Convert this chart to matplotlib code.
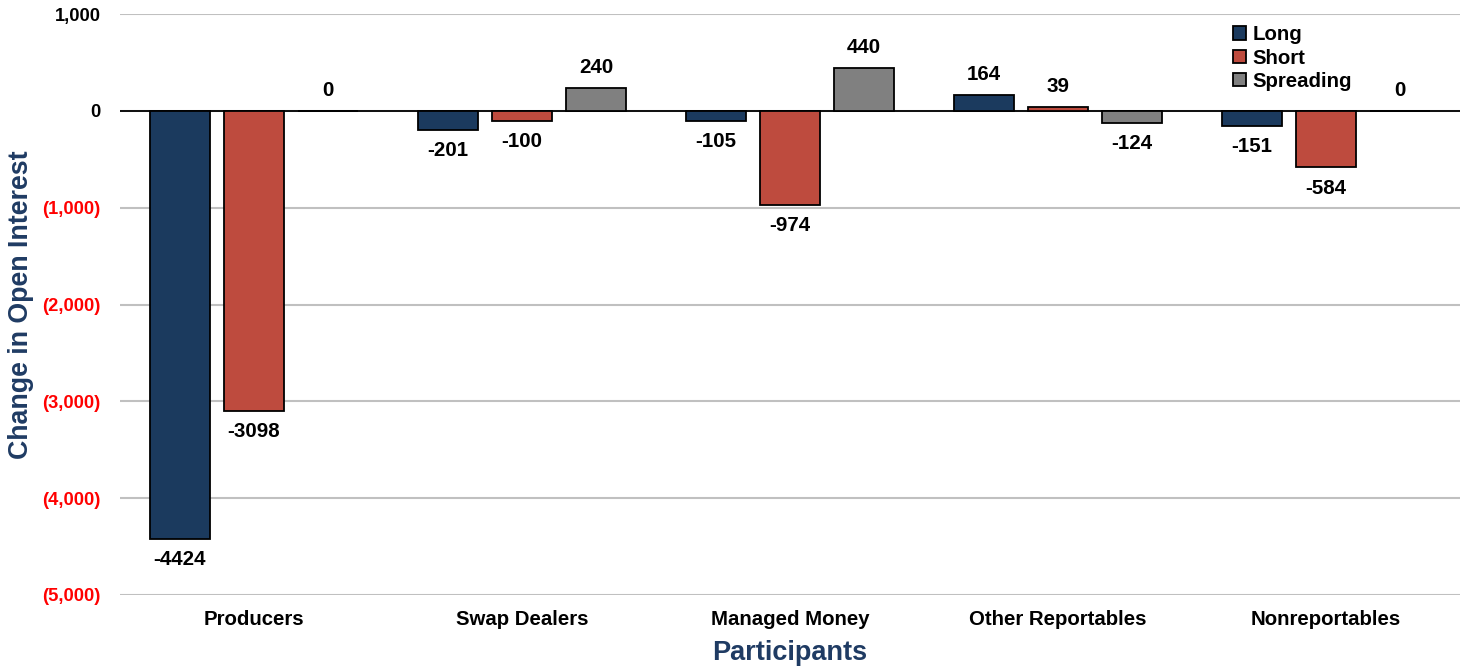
import matplotlib.pyplot as plt
import numpy as np
from matplotlib.ticker import FuncFormatter

plt.rcParams['font.family'] = ['Liberation Sans', 'DejaVu Sans']
plt.rcParams['font.weight'] = 'bold'

# Datos
participants = ['Producers', 'Swap Dealers', 'Managed Money', 'Other Reportables', 'Nonreportables']
long_vals = [-4424, -201, -105, 164, -151]
short_vals = [-3098, -100, -974, 39, -584]
spreading_vals = [0, 240, 440, -124, 0]

series = [('Long', long_vals, '#1b3a5e'),
          ('Short', short_vals, '#be4b3e'),
          ('Spreading', spreading_vals, '#808080')]

fig = plt.figure(figsize=(14.68, 6.70), dpi=100)
ax = fig.add_axes([0.0817, 0.112, 0.9129, 0.867])

x = np.arange(len(participants))
width = 0.224
step = 0.276

for i, (name, vals, color) in enumerate(series):
    pos = x + (i - 1) * step
    ax.bar(pos, vals, width, color=color, edgecolor='black', linewidth=1.3,
           label=name, zorder=3)
    for xi, v in zip(pos, vals):
        if v >= 0:
            ax.annotate(str(v), xy=(xi, v), xytext=(0, 8), textcoords='offset points',
                        ha='center', va='bottom', fontsize=14.8, fontweight='bold')
        else:
            ax.annotate(str(v), xy=(xi, v), xytext=(0, -8), textcoords='offset points',
                        ha='center', va='top', fontsize=14.8, fontweight='bold')

ax.set_xlim(-0.5, len(participants) - 0.5)
ax.set_ylim(-5000, 1000)
ax.set_yticks(np.arange(-5000, 1001, 1000))


def fmt(v, pos):
    if v < 0:
        return '({:,.0f})'.format(-v)
    return '{:,.0f}'.format(v)


ax.yaxis.set_major_formatter(FuncFormatter(fmt))
for lbl, v in zip(ax.get_yticklabels(), ax.get_yticks()):
    lbl.set_color('red' if v < 0 else 'black')
ax.tick_params(axis='y', labelsize=13.2, length=0, pad=14)
ax.tick_params(axis='x', labelsize=14.7, length=0, pad=11)
ax.set_xticks(x)
ax.set_xticklabels(participants, fontweight='bold')
for lbl in ax.get_yticklabels():
    lbl.set_fontweight('bold')

ax.grid(axis='y', color='#c0c0c0', linewidth=1.5, zorder=0)
ax.axhline(0, color='black', linewidth=1.3, zorder=2)
for s in ax.spines.values():
    s.set_visible(False)

ax.set_ylabel('Change in Open Interest', fontsize=19.3, fontweight='bold', color='#1f3b63', labelpad=6)
ax.set_xlabel('Participants', fontsize=19.5, fontweight='bold', color='#1f3b63', labelpad=8)

leg = ax.legend(loc='upper right', bbox_to_anchor=(0.93, 1.005), frameon=False,
                prop={'weight': 'bold', 'size': 14.7}, handlelength=0.65, handleheight=0.65,
                handletextpad=0.3, labelspacing=0.2, borderpad=0.2)

fig.savefig('out.png', dpi=100)
